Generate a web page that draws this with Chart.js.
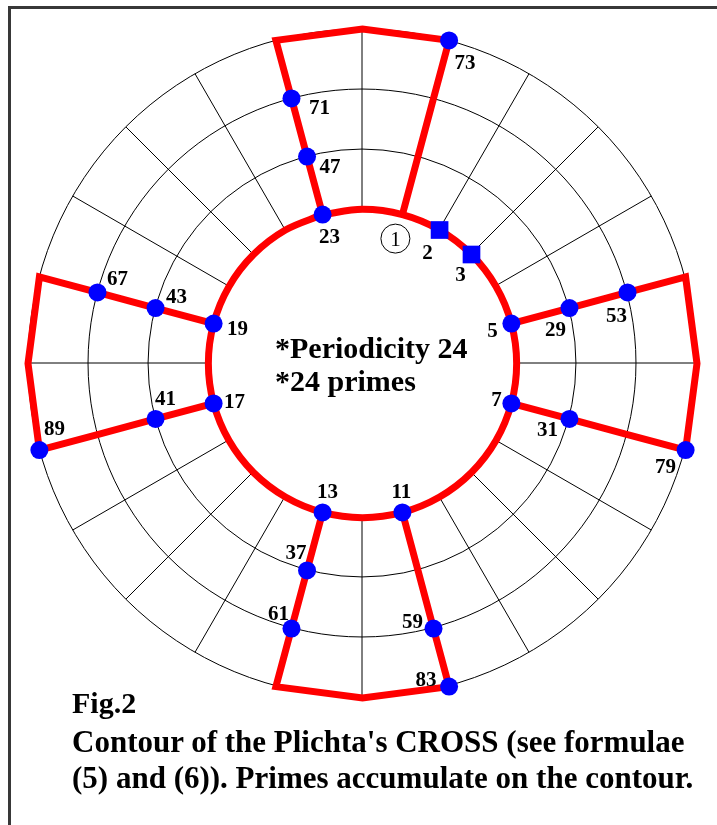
<!DOCTYPE html>
<html>
<head>
<meta charset="utf-8">
<script src="https://cdn.jsdelivr.net/npm/chart.js@4.4.1/dist/chart.umd.min.js"></script>
<style>
html,body{margin:0;padding:0;width:717px;height:825px;overflow:hidden;background:#fff;}
#frame{position:absolute;left:8px;top:6px;width:900px;height:1000px;border:3px solid #383838;box-sizing:border-box;}
#c{position:absolute;left:0;top:0;}
.t{position:absolute;font-family:"Liberation Serif","Times New Roman",serif;font-weight:bold;white-space:nowrap;color:#000;line-height:1;}
</style>
</head>
<body>
<div id="frame"></div>
<canvas id="c" width="717" height="825"></canvas>
<div class="t" style="left:275px;top:333px;font-size:30px">*Periodicity 24</div>
<div class="t" style="left:275px;top:366px;font-size:30px">*24 primes</div>
<div class="t" style="left:72px;top:688px;font-size:30px">Fig.2</div>
<div class="t" style="left:72px;top:726px;font-size:31px">Contour of the Plichta's CROSS (see formulae</div>
<div class="t" style="left:72px;top:762px;font-size:31px">(5) and (6)). Primes accumulate on the contour.</div>
<script>
// ---- data ----
const PERIOD = 24;
const residues = ['24','1','2','3','4','5','6','7','8','9','10','11','12','13','14','15','16','17','18','19','20','21','22','23'];
const rings = [1, 2, 3, 4];
const primes = [2, 3, 5, 7, 11, 13, 17, 19, 23, 29, 31, 37, 41, 43, 47, 53, 59, 61, 67, 71, 73, 79, 83, 89];
const squarePrimes = [2, 3];
const roundPrimes = primes.filter(p => !squarePrimes.includes(p));
// inner ring of the contour (numbers 1..24, closed)
const innerRing = [23, 24, 1, 2, 3, 4, 5, 6, 7, 8, 9, 10, 11, 12, 13, 14, 15, 16, 17, 18, 19, 20, 21, 22, 23];
// the four arms of the cross contour
const armEast  = [5, 29, 53, 77, 78, 79, 55, 31, 7];
const armSouth = [11, 35, 59, 83, 84, 85, 61, 37, 13];
const armWest  = [17, 41, 65, 89, 90, 91, 67, 43, 19];
const armNorth = [23, 47, 71, 95, 96, 73, 49, 25, 1];
const circledNumbers = [1];

// ---- label placement (pixel offsets from each marker) ----
const labelOffsets = {2:[-12,22],3:[-11,19],5:[-19,6],7:[-15,-4],11:[-1,-21],13:[5,-21],17:[21,-2],19:[24,4],
  23:[7,21],29:[-14,21],31:[-22,10],37:[-11,-18],41:[10,-21],43:[21,-12],47:[23,9],53:[-11,23],59:[-21,-8],
  61:[-13,-16],67:[20,-14],71:[28,9],73:[16,22],79:[-20,16],83:[-23,-8],89:[15,-22]};
const circledOffset = [-7, 24];

// ---- polar mapping of a number: angle from n mod 24, ring from ceil(n/24) ----
const R_MIN = -1.564, R_MAX = 4;
const SPAN = R_MAX - R_MIN;
function polar(n) {
  const idx = n % PERIOD;
  const ring = Math.ceil(n / PERIOD);
  const d = ring - R_MIN;
  const a = idx * 2 * Math.PI / PERIOD;
  return { x: d * Math.sin(a), y: d * Math.cos(a), n: n };
}

const RED = '#ff0000', BLUE = '#0000ff';
const LABEL_FONT = 'bold 21px "Liberation Serif", "Times New Roman", serif';

const labelPlugin = {
  id: 'primeLabels',
  afterDatasetsDraw(chart) {
    const ctx = chart.ctx, xs = chart.scales.x, ys = chart.scales.y;
    ctx.save();
    ctx.fillStyle = '#000';
    ctx.textAlign = 'center';
    ctx.textBaseline = 'alphabetic';
    ctx.font = LABEL_FONT;
    primes.forEach(p => {
      const pt = polar(p);
      const off = labelOffsets[p] || [0, 0];
      const px = xs.getPixelForValue(pt.x) + off[0];
      const py = ys.getPixelForValue(pt.y) + off[1];
      ctx.fillText(String(p), px, py + 7);
    });
    ctx.font = '21px "Liberation Serif", "Times New Roman", serif';
    ctx.strokeStyle = '#000';
    ctx.lineWidth = 1;
    circledNumbers.forEach(n => {
      const pt = polar(n);
      const px = xs.getPixelForValue(pt.x) + circledOffset[0];
      const py = ys.getPixelForValue(pt.y) + circledOffset[1];
      ctx.beginPath();
      ctx.arc(px, py, 14.5, 0, 2 * Math.PI);
      ctx.stroke();
      ctx.fillText(String(n), px, py + 7);
    });
    ctx.restore();
  }
};

const armStyle = { showLine: true, borderColor: RED, borderWidth: 7, pointRadius: 0, fill: false,
                   tension: 0, borderJoinStyle: 'miter', clip: false };

new Chart(document.getElementById('c'), {
  type: 'scatter',
  data: {
    labels: residues,
    datasets: [
      { label: 'squares', data: squarePrimes.map(polar), pointStyle: 'rect', pointRadius: 12.5,
        backgroundColor: BLUE, borderWidth: 0, showLine: false, clip: false },
      { label: 'primes', data: roundPrimes.map(polar), pointStyle: 'circle', pointRadius: 9,
        backgroundColor: BLUE, borderWidth: 0, showLine: false, clip: false },
      Object.assign({ label: 'arm E', data: armEast.map(polar) }, armStyle),
      Object.assign({ label: 'arm S', data: armSouth.map(polar) }, armStyle),
      Object.assign({ label: 'arm W', data: armWest.map(polar) }, armStyle),
      Object.assign({ label: 'arm N', data: armNorth.map(polar) }, armStyle),
      { label: 'inner ring', data: innerRing.map(polar), showLine: true, borderColor: RED, borderWidth: 7,
        pointRadius: 0, fill: 'shape', backgroundColor: '#ffffff', tension: 0.3375, clip: false }
    ]
  },
  options: {
    responsive: false,
    animation: false,
    events: [],
    layout: { padding: { left: 28, top: 29, right: 20, bottom: 127 } },
    plugins: { legend: { display: false }, tooltip: { enabled: false } },
    scales: {
      x: { type: 'linear', display: false, min: -SPAN, max: SPAN },
      y: { type: 'linear', display: false, min: -SPAN, max: SPAN },
      r: {
        type: 'radialLinear',
        min: R_MIN, max: R_MAX,
        startAngle: 0,
        afterBuildTicks: s => { s.ticks = rings.map(v => ({ value: v })); },
        ticks: { display: false },
        pointLabels: { display: false },
        grid: { circular: true, color: '#000', lineWidth: 1 },
        angleLines: { display: true, color: '#000', lineWidth: 1 }
      }
    }
  },
  plugins: [labelPlugin]
});
</script>
</body>
</html>
